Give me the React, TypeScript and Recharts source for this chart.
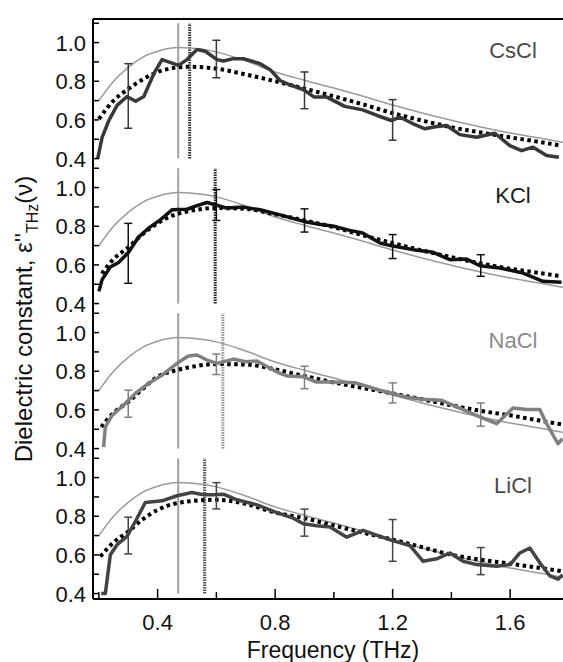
import { LineChart, Line, XAxis, YAxis, ReferenceLine, ErrorBar } from 'recharts';

// tick values
const freqTicks = [0.2, 0.4, 0.6, 0.8, 1.0, 1.2, 1.4, 1.6];
const freqLabels = [0.4, 0.8, 1.2, 1.6];
const epsTicks = [0.4, 0.5, 0.6, 0.7, 0.8, 0.9, 1.0, 1.1];
const epsLabels = [0.4, 0.6, 0.8, 1.0];

// reference model curve (same in all panels), [THz, eps'']
const model = [
  [0.2, 0.70], [0.25, 0.80], [0.3, 0.872], [0.35, 0.925], [0.4, 0.955], [0.47, 0.974],
  [0.55, 0.966], [0.6, 0.952], [0.7, 0.905], [0.8, 0.848], [0.9, 0.805], [1.0, 0.765],
  [1.1, 0.722], [1.2, 0.677], [1.3, 0.636], [1.4, 0.598], [1.5, 0.563], [1.6, 0.532],
  [1.7, 0.506], [1.78, 0.484],
];

const csclExp = [
  [0.196, 0.40], [0.211, 0.51], [0.234, 0.597], [0.262, 0.675], [0.296, 0.721], [0.325, 0.697],
  [0.353, 0.721], [0.387, 0.839], [0.415, 0.912], [0.437, 0.90], [0.471, 0.882], [0.50, 0.912],
  [0.534, 0.964], [0.562, 0.955], [0.602, 0.912], [0.624, 0.905], [0.658, 0.917], [0.692, 0.917],
  [0.749, 0.891], [0.783, 0.86], [0.817, 0.804], [0.842, 0.787], [0.897, 0.756], [0.933, 0.718],
  [0.976, 0.718], [1.037, 0.67], [1.098, 0.652], [1.147, 0.623], [1.196, 0.597], [1.225, 0.614],
  [1.27, 0.58], [1.31, 0.554], [1.345, 0.565], [1.384, 0.571], [1.429, 0.524], [1.486, 0.51],
  [1.548, 0.531], [1.599, 0.467], [1.639, 0.441], [1.678, 0.459], [1.724, 0.416], [1.766, 0.407],
];
const csclFit = [
  [0.2, 0.605], [0.25, 0.70], [0.3, 0.76], [0.35, 0.81], [0.4, 0.848], [0.45, 0.868], [0.5, 0.875],
  [0.6, 0.865], [0.7, 0.835], [0.8, 0.80], [0.9, 0.762], [1.0, 0.722], [1.1, 0.68], [1.2, 0.635],
  [1.3, 0.597], [1.4, 0.562], [1.5, 0.535], [1.6, 0.51], [1.7, 0.486], [1.77, 0.468],
];
const csclErr = [[0.3, 0.724, 0.167], [0.6, 0.915, 0.097], [0.9, 0.753, 0.095], [1.2, 0.60, 0.105]];

const kclExp = [
  [0.2, 0.463], [0.211, 0.524], [0.239, 0.589], [0.267, 0.613], [0.301, 0.665], [0.335, 0.744],
  [0.369, 0.79], [0.409, 0.833], [0.449, 0.885], [0.5, 0.888], [0.534, 0.907], [0.568, 0.923],
  [0.596, 0.911], [0.636, 0.894], [0.692, 0.899], [0.749, 0.885], [0.817, 0.859], [0.897, 0.825],
  [0.95, 0.81], [1.0, 0.80], [1.05, 0.78], [1.098, 0.765], [1.157, 0.713], [1.193, 0.70],
  [1.23, 0.69], [1.27, 0.679], [1.338, 0.665], [1.395, 0.627], [1.452, 0.63], [1.497, 0.596],
  [1.565, 0.584], [1.644, 0.558], [1.712, 0.515], [1.775, 0.51],
];
const kclFit = [
  [0.21, 0.555], [0.25, 0.63], [0.3, 0.69], [0.35, 0.76], [0.4, 0.816], [0.45, 0.855], [0.5, 0.876],
  [0.6, 0.894], [0.7, 0.89], [0.8, 0.862], [0.9, 0.83], [1.0, 0.795], [1.1, 0.753], [1.2, 0.713],
  [1.3, 0.675], [1.4, 0.64], [1.5, 0.608], [1.6, 0.58], [1.7, 0.558], [1.775, 0.541],
];
const kclErr = [[0.3, 0.66, 0.155], [0.6, 0.91, 0.08], [0.9, 0.83, 0.06], [1.2, 0.695, 0.062], [1.5, 0.597, 0.056]];

const naclExp = [
  [0.216, 0.408], [0.222, 0.512], [0.245, 0.572], [0.284, 0.624], [0.324, 0.685], [0.369, 0.737],
  [0.415, 0.78], [0.466, 0.841], [0.505, 0.879], [0.534, 0.884], [0.568, 0.858], [0.602, 0.841],
  [0.658, 0.863], [0.698, 0.849], [0.738, 0.853], [0.794, 0.806], [0.817, 0.789], [0.842, 0.775],
  [0.897, 0.771], [0.939, 0.745], [1.0, 0.745], [1.074, 0.74], [1.157, 0.702], [1.2, 0.685],
  [1.25, 0.665], [1.3, 0.655], [1.367, 0.65], [1.418, 0.616], [1.497, 0.564], [1.554, 0.529],
  [1.61, 0.61], [1.656, 0.602], [1.701, 0.602], [1.724, 0.529], [1.763, 0.425], [1.778, 0.451],
];
const naclFit = [
  [0.208, 0.512], [0.25, 0.585], [0.3, 0.641], [0.35, 0.71], [0.4, 0.771], [0.45, 0.80], [0.5, 0.818],
  [0.6, 0.837], [0.7, 0.835], [0.8, 0.81], [0.9, 0.775], [1.0, 0.742], [1.1, 0.713], [1.2, 0.685],
  [1.3, 0.655], [1.4, 0.624], [1.5, 0.595], [1.6, 0.572], [1.7, 0.545], [1.778, 0.525],
];
const naclErr = [[0.3, 0.632, 0.07], [0.6, 0.836, 0.053], [0.9, 0.768, 0.058], [1.2, 0.688, 0.052], [1.5, 0.576, 0.06]];

const liclExp = [
  [0.208, 0.40], [0.222, 0.40], [0.239, 0.601], [0.262, 0.653], [0.296, 0.696], [0.324, 0.773],
  [0.358, 0.871], [0.415, 0.88], [0.466, 0.906], [0.517, 0.923], [0.556, 0.911], [0.59, 0.911],
  [0.624, 0.914], [0.67, 0.885], [0.738, 0.859], [0.806, 0.819], [0.862, 0.79], [0.896, 0.761],
  [0.942, 0.751], [0.987, 0.744], [1.044, 0.692], [1.1, 0.727], [1.157, 0.696], [1.197, 0.675],
  [1.259, 0.648], [1.304, 0.567], [1.35, 0.58], [1.395, 0.61], [1.44, 0.567], [1.486, 0.55],
  [1.554, 0.541], [1.6, 0.55], [1.633, 0.61], [1.667, 0.636], [1.701, 0.559], [1.735, 0.492],
  [1.763, 0.475], [1.779, 0.497],
];
const liclFit = [
  [0.205, 0.592], [0.25, 0.665], [0.3, 0.721], [0.35, 0.785], [0.4, 0.833], [0.45, 0.862], [0.5, 0.876],
  [0.6, 0.885], [0.7, 0.864], [0.8, 0.819], [0.9, 0.79], [1.0, 0.752], [1.1, 0.715], [1.2, 0.679],
  [1.3, 0.64], [1.4, 0.601], [1.5, 0.575], [1.6, 0.555], [1.7, 0.533], [1.779, 0.515],
];
const liclErr = [[0.3, 0.70, 0.095], [0.6, 0.906, 0.068], [0.9, 0.767, 0.07], [1.2, 0.675, 0.108], [1.5, 0.568, 0.07]];

const modelPeak = 0.47;
const markers = [0.509, 0.596, 0.622, 0.56];
const salts = ['CsCl', 'KCl', 'NaCl', 'LiCl'];

const pts = (a: number[][]) => a.map(([f, v]) => ({ f, v }));
const errPts = (a: number[][]) => a.map(([f, v, e]) => ({ f, v, err: e }));

const panels = [
  { name: salts[0], exp: csclExp, fit: csclFit, err: csclErr, marker: markers[0], color: '#383838', markColor: '#333', labelColor: '#4a4a4a' },
  { name: salts[1], exp: kclExp, fit: kclFit, err: kclErr, marker: markers[1], color: '#111', markColor: '#222', labelColor: '#1a1a1a' },
  { name: salts[2], exp: naclExp, fit: naclFit, err: naclErr, marker: markers[2], color: '#808080', markColor: '#999', labelColor: '#8a8a8a' },
  { name: salts[3], exp: liclExp, fit: liclFit, err: liclErr, marker: markers[3], color: '#444', markColor: '#555', labelColor: '#4a4a4a' },
];

const W = 563;
const LEFT = 93;
const PANEL_H = 145;
const TOP = 19;
const X_AXIS_H = 63;
const FONT = 'Arial, "Liberation Sans", Helvetica, sans-serif';

const near = (list: number[], v: number) => list.some((l) => Math.abs(l - v) < 1e-6);

function XTick(props: any) {
  const { x, y, payload, showLabel } = props;
  const major = near(freqLabels, payload.value);
  return (
    <g>
      <line x1={x} x2={x} y1={y} y2={y - (major ? 10 : 7)} stroke="#000" strokeWidth={1.5} />
      {showLabel && major && (
        <text x={x} y={y + 31} textAnchor="middle" fontSize={22} fill="#111" fontFamily={FONT}>
          {payload.value.toFixed(1)}
        </text>
      )}
    </g>
  );
}

function YTick(props: any) {
  const { x, y, payload } = props;
  const major = near(epsLabels, payload.value);
  return (
    <g>
      <line x1={x} x2={x + 6} y1={y} y2={y} stroke="#000" strokeWidth={1.5} />
      {major && (
        <text x={x - 7} y={y} dy="0.36em" textAnchor="end" fontSize={22} fill="#111" fontFamily={FONT}>
          {payload.value.toFixed(1)}
        </text>
      )}
    </g>
  );
}

function Panel({ p, last, first }: { p: any; last: boolean; first: boolean }) {
  return (
    <LineChart width={W} height={PANEL_H + (last ? X_AXIS_H : 0)} margin={{ top: 0, right: 0, bottom: 0, left: 0 }}>
      <XAxis
        dataKey="f"
        type="number"
        domain={[0.18, 1.78]}
        allowDataOverflow
        ticks={freqTicks}
        interval={0}
        height={last ? X_AXIS_H : 0}
        tickSize={0}
        tickMargin={0}
        tickLine={false}
        axisLine={{ stroke: '#000', strokeWidth: 2 }}
        tick={(t: any) => <XTick {...t} showLabel={last} />}
      />
      <YAxis
        type="number"
        domain={[0.372, 1.122]}
        allowDataOverflow
        ticks={epsTicks}
        interval={0}
        width={LEFT}
        tickSize={0}
        tickMargin={0}
        tickLine={false}
        axisLine={{ stroke: '#000', strokeWidth: 2 }}
        tick={(t: any) => <YTick {...t} />}
      />
      {first && <ReferenceLine y={1.122} stroke="#000" strokeWidth={2} />}
      <ReferenceLine
        segment={[{ x: modelPeak, y: 0.4 }, { x: modelPeak, y: 1.1 }]}
        stroke="#a0a0a0"
        strokeWidth={2}
      />
      <ReferenceLine
        segment={[{ x: p.marker, y: 0.4 }, { x: p.marker, y: 1.1 }]}
        stroke={p.markColor}
        strokeWidth={3}
        strokeDasharray="1.5 1"
      />
      <Line data={pts(model)} dataKey="v" type="monotone" stroke="#9a9a9a" strokeWidth={1.5} dot={false} activeDot={false} isAnimationActive={false} />
      <Line data={pts(p.fit)} dataKey="v" type="monotone" stroke="#000" strokeWidth={4} strokeDasharray="3.5 3.5" dot={false} activeDot={false} isAnimationActive={false} />
      <Line data={pts(p.exp)} dataKey="v" type="linear" stroke={p.color} strokeWidth={3.5} strokeLinejoin="round" dot={false} activeDot={false} isAnimationActive={false} />
      <Line data={errPts(p.err)} dataKey="v" stroke="none" dot={false} activeDot={false} isAnimationActive={false}>
        <ErrorBar dataKey="err" direction="y" width={4} stroke={p.color} strokeWidth={1.5} isAnimationActive={false} />
      </Line>
    </LineChart>
  );
}

export default function App() {
  return (
    <div style={{ position: 'absolute', left: 0, top: 0, width: W, height: 662, background: '#fff', overflow: 'hidden', fontFamily: FONT }}>
      <style>{`.recharts-surface{overflow:visible}`}</style>
      {panels.map((p, i) => (
        <div key={p.name} style={{ position: 'absolute', left: 0, top: TOP + i * PANEL_H }}>
          <Panel p={p} first={i === 0} last={i === panels.length - 1} />
        </div>
      ))}
      <svg width={W} height={662} style={{ position: 'absolute', left: 0, top: 0, pointerEvents: 'none' }}>
        {panels.map((p, i) => (
          <text key={p.name} x={513} y={TOP + i * PANEL_H + 31} dy="0.36em" textAnchor="middle" fontSize={22} fill={p.labelColor} fontFamily={FONT}>
            {p.name}
          </text>
        ))}
        <text transform="rotate(-90)" x={-319} y={23} dy="0.36em" textAnchor="middle" fontSize={24} fill="#111" fontFamily={FONT}>
          Dielectric constant, ε''
          <tspan fontSize={16} dy={6}>THz</tspan>
          <tspan dy={-6}>(ν)</tspan>
        </text>
        <text x={333} y={658} textAnchor="middle" fontSize={23} fill="#111" fontFamily={FONT}>
          Frequency (THz)
        </text>
      </svg>
    </div>
  );
}
